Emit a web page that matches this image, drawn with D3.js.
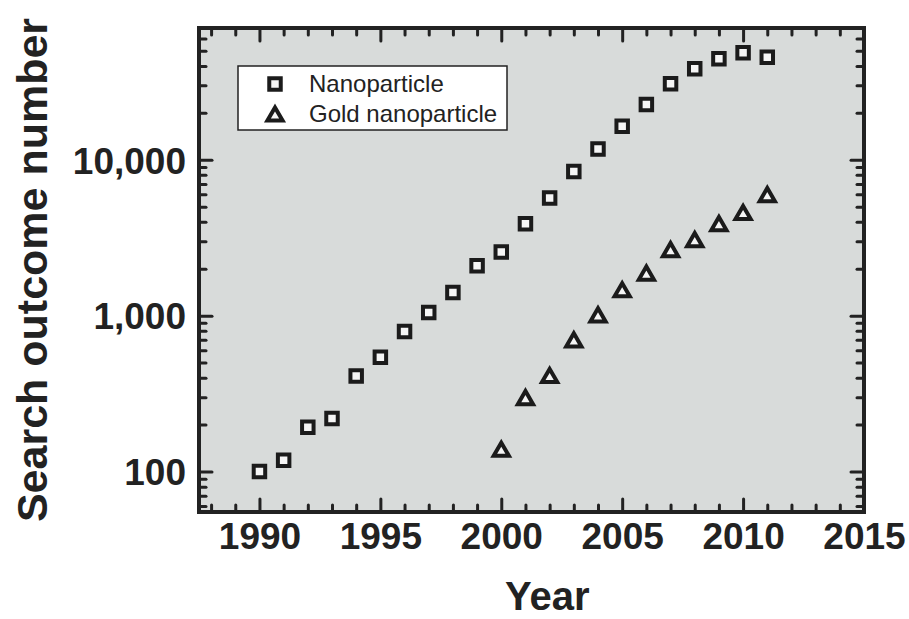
<!DOCTYPE html>
<html>
<head>
<meta charset="utf-8">
<script src="https://cdn.jsdelivr.net/npm/d3@7"></script>
<style>
    body { margin: 0; background: #fff; }
    svg text { font-family: "Liberation Sans", Arial, Helvetica, sans-serif; fill: #222; }
</style>
</head>
<body>
<div id="chart"></div>
<script>
const years = [1990, 1991, 1992, 1993, 1994, 1995, 1996, 1997, 1998, 1999, 2000,
    2001, 2002, 2003, 2004, 2005, 2006, 2007, 2008, 2009, 2010, 2011];
const nanoparticle = [100, 118, 192, 219, 410, 540, 790, 1047, 1406, 2090, 2560,
    3890, 5690, 8420, 11700, 16400, 22600, 30700, 38300, 44400, 48500, 45500];
const goldYears = [2000, 2001, 2002, 2003, 2004, 2005, 2006, 2007, 2008, 2009, 2010, 2011];
const goldNanoparticle = [139, 298, 413, 699, 1012, 1465, 1875, 2650, 3070, 3890, 4590, 5970];

const xMajorTicks = [1990, 1995, 2000, 2005, 2010, 2015];
const yMajorTicks = [100, 1000, 10000];
const yTickLabels = ["100", "1,000", "10,000"];
const seriesNames = ["Nanoparticle", "Gold nanoparticle"];

const margin = { top: 28, right: 45, bottom: 107, left: 199 },
    width = 909 - margin.left - margin.right,
    height = 619 - margin.top - margin.bottom;

const svgContainer = d3.select("#chart").append("svg")
    .attr("width", width + margin.left + margin.right)
    .attr("height", height + margin.top + margin.bottom);

const svg = svgContainer.append("g")
    .attr("transform", `translate(${margin.left},${margin.top})`);

const x = d3.scaleLinear()
    .domain([1987.5, 2015])
    .range([0, width]);

const y = d3.scaleLog()
    .domain([55, 70000])
    .range([height, 0]);

// plot background
svg.append("rect")
    .attr("width", width)
    .attr("height", height)
    .attr("fill", "#d8dbda");

const xMinor = d3.range(1988, 2016).filter(d => !xMajorTicks.includes(d));
const yMinor = y.ticks().filter(d => !yMajorTicks.includes(d));

const styleAxis = (g) => {
    g.select(".domain").remove();
    g.selectAll("line")
        .attr("stroke", "#222")
        .attr("stroke-width", 3)
        .attr("stroke-linecap", "round");
};

// inward ticks on all four sides
const addAxis = (axisFn, scale, transform, major, minor, labels) => {
    svg.append("g")
        .attr("transform", transform)
        .call(axisFn(scale).tickValues(minor).tickSize(-7).tickFormat(""))
        .call(styleAxis);
    const g = svg.append("g")
        .attr("transform", transform)
        .call(axisFn(scale).tickValues(major).tickSize(-13).tickPadding(0)
            .tickFormat(labels ? (d, i) => labels[i] : ""))
        .call(styleAxis);
    return g;
};

const xAxisGroup = addAxis(d3.axisBottom, x, `translate(0,${height})`, xMajorTicks, xMinor, xMajorTicks.map(String));
addAxis(d3.axisTop, x, "translate(0,0)", xMajorTicks, xMinor, null);
const yAxisGroup = addAxis(d3.axisLeft, y, "translate(0,0)", yMajorTicks, yMinor, yTickLabels);
addAxis(d3.axisRight, y, `translate(${width},0)`, yMajorTicks, yMinor, null);

xAxisGroup.selectAll("text")
    .attr("y", 36.5)
    .attr("dy", 0)
    .style("font-size", "37px")
    .style("font-weight", "bold");

yAxisGroup.selectAll("text")
    .attr("x", -13)
    .attr("dy", "0.36em")
    .style("font-size", "37px")
    .style("font-weight", "bold");

// frame
svg.append("rect")
    .attr("width", width)
    .attr("height", height)
    .attr("fill", "none")
    .attr("stroke", "#222")
    .attr("stroke-width", 4);

svg.append("text")
    .attr("x", x(2001.9))
    .attr("y", height + 98)
    .attr("text-anchor", "middle")
    .style("font-size", "40px")
    .style("font-weight", "bold")
    .text("Year");

svg.append("text")
    .attr("transform", "rotate(-90)")
    .attr("x", -(270 - margin.top))
    .attr("y", 47 - margin.left)
    .attr("text-anchor", "middle")
    .style("font-size", "43px")
    .style("font-weight", "bold")
    .text("Search outcome number");

const squareSymbol = d3.symbol().type(d3.symbolSquare).size(132);
const triSize = 100;
const triSymbol = d3.symbol().type(d3.symbolTriangle).size(triSize);
const triHeight = Math.sqrt(triSize * Math.sqrt(3));
const triShift = triHeight / 6;

const markerStyle = (sel) => sel
    .attr("fill", "#f5f5f5")
    .attr("stroke", "#1b1b1b")
    .attr("stroke-width", 4);

svg.append("g").selectAll("path")
    .data(years.map((d, i) => ({ year: d, value: nanoparticle[i] })))
    .join("path")
    .attr("d", squareSymbol)
    .attr("transform", d => `translate(${x(d.year)},${y(d.value)})`)
    .call(markerStyle);

svg.append("g").selectAll("path")
    .data(goldYears.map((d, i) => ({ year: d, value: goldNanoparticle[i] })))
    .join("path")
    .attr("d", triSymbol)
    .attr("transform", d => `translate(${x(d.year)},${y(d.value) + triShift})`)
    .call(markerStyle);

// legend
const legend = svg.append("g")
    .attr("transform", `translate(${238 - margin.left},${66 - margin.top})`);

legend.append("rect")
    .attr("width", 269)
    .attr("height", 64)
    .attr("fill", "#fff")
    .attr("stroke", "#222")
    .attr("stroke-width", 1.5);

legend.append("path")
    .attr("d", squareSymbol)
    .attr("transform", "translate(37,18)")
    .call(markerStyle);

legend.append("path")
    .attr("d", triSymbol)
    .attr("transform", `translate(37,${48 + triShift})`)
    .call(markerStyle);

legend.selectAll("text.item")
    .data(seriesNames)
    .join("text")
    .attr("class", "item")
    .attr("x", 71)
    .attr("y", (d, i) => 26 + i * 30)
    .style("font-size", "24px")
    .text(d => d);
</script>
</body>
</html>
